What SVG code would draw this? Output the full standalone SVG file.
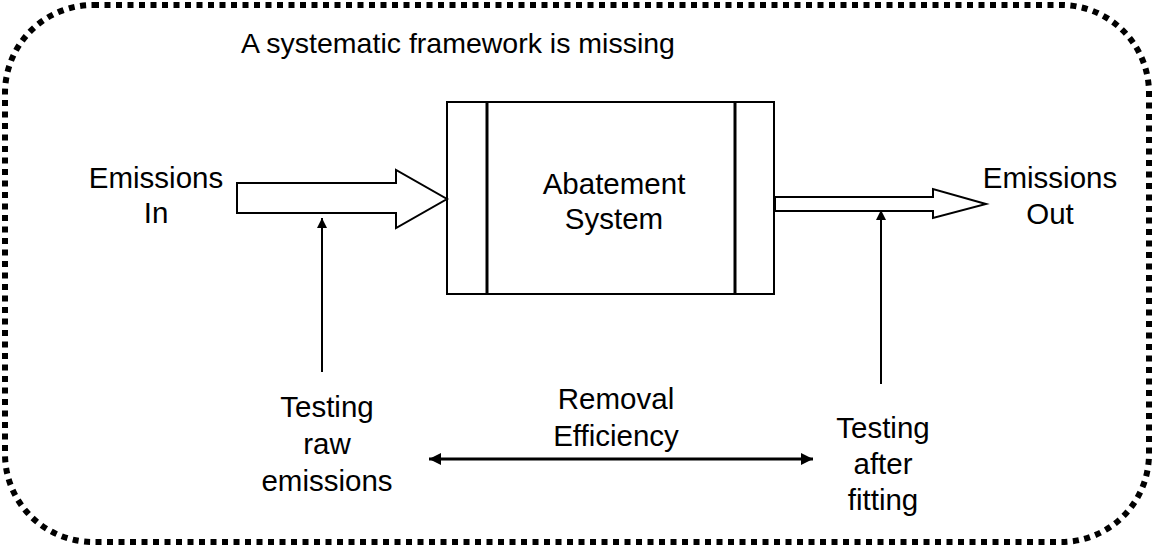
<svg xmlns="http://www.w3.org/2000/svg" width="1153" height="551" viewBox="0 0 1153 551">
<style>
text{font-family:"Liberation Sans",Arial,sans-serif;font-size:29.5px;fill:#000;text-anchor:middle}
.title{font-size:28.5px;text-anchor:start}
.border{fill:none;stroke:#000;stroke-width:6;stroke-dasharray:6 5.5}
.block{fill:#fff;stroke:#000;stroke-width:2;stroke-linejoin:miter}
.line{stroke:#000;fill:none}
</style>
<defs>
<marker id="ah" viewBox="0 0 10 10" refX="10" refY="5" markerWidth="5" markerHeight="5" markerUnits="strokeWidth" orient="auto-start-reverse"><path d="M0,0 L10,5 L0,10 Z" fill="#000"/></marker>
<marker id="ah2" viewBox="0 0 10 10" refX="10" refY="5" markerWidth="4.3" markerHeight="4" markerUnits="strokeWidth" orient="auto-start-reverse"><path d="M0,0 L10,5 L0,10 Z" fill="#000"/></marker>
</defs>
<rect width="1153" height="551" fill="#fff"/>
<rect class="border" x="5" y="5" width="1144" height="537" rx="88" ry="88"/>
<text class="title" x="241" y="53">A systematic framework is missing</text>
<g id="abatement">
<rect class="block" x="447" y="102" width="327" height="192" stroke-width="3"/>
<line class="line" x1="487" y1="102" x2="487" y2="294" stroke-width="3"/>
<line class="line" x1="735" y1="102" x2="735" y2="294" stroke-width="3"/>
<text x="614" y="194">Abatement</text>
<text x="614" y="229">System</text>
</g>
<g id="emissions-in">
<text x="156" y="188">Emissions</text>
<text x="156" y="223">In</text>
</g>
<g id="emissions-out">
<text x="1050" y="188">Emissions</text>
<text x="1050" y="224">Out</text>
</g>
<g id="testing-raw">
<text x="327" y="417">Testing</text>
<text x="327" y="454">raw</text>
<text x="327" y="491">emissions</text>
</g>
<g id="testing-after">
<text x="883" y="438">Testing</text>
<text x="883" y="474">after</text>
<text x="883" y="510">fitting</text>
</g>
<g id="removal">
<text x="616" y="409">Removal</text>
<text x="616" y="446">Efficiency</text>
</g>
<g id="connectors">
<polygon class="block" points="237,183 396,183 396,170 447,199 396,228 396,213 237,213"/>
<polygon class="block" points="775,197 933,197 933,189 986,204 933,218 933,211 775,211"/>
<line class="line" x1="322" y1="372" x2="322" y2="218" stroke-width="2" marker-end="url(#ah)"/>
<line class="line" x1="881" y1="384" x2="881" y2="210" stroke-width="2" marker-end="url(#ah)"/>
<line class="line" x1="429" y1="459" x2="813" y2="459" stroke-width="3" marker-start="url(#ah2)" marker-end="url(#ah2)"/>
</g>
</svg>
